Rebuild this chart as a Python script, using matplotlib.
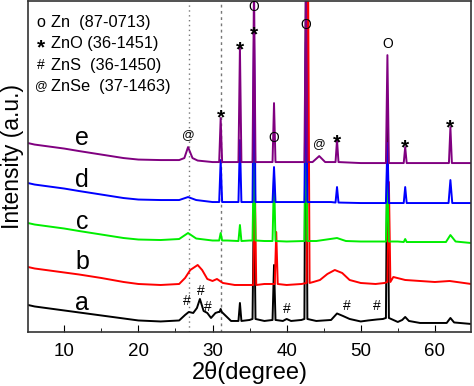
import matplotlib
matplotlib.use("Agg")
import matplotlib.pyplot as plt
from matplotlib.ticker import MultipleLocator

plt.rcParams['font.family'] = ['Liberation Sans', 'DejaVu Sans']

# broad profile of each pattern: (2theta, intensity)
base_a = [(5.1, 270), (6, 255), (8, 235), (10, 215), (12, 195), (15, 165), (18, 135), (20, 115),
          (23, 105), (25.5, 115), (26.3, 170), (26.8, 200), (27.4, 190), (27.9, 240), (28.3, 330),
          (28.8, 210), (29.3, 190), (29.8, 140), (30.4, 190), (30.8, 200), (32.5, 110), (35, 120),
          (37, 110), (39.5, 110), (40, 130), (40.6, 110), (42, 120), (44, 110), (46, 120),
          (46.8, 185), (47.6, 160), (48.5, 130), (50, 105), (51, 115), (52.2, 125), (53, 130),
          (55, 100), (55.6, 120), (56.0, 150), (56.5, 110), (58, 90), (60, 90), (61.6, 90),
          (62.1, 140), (62.6, 95), (64.9, 80)]
base_b = [(5.1, 650), (6, 635), (8, 615), (10, 595), (12, 575), (15, 540), (18, 500), (20, 480),
          (23, 470), (25.5, 480), (26.3, 540), (27.0, 620), (27.6, 650), (28.0, 670), (28.6, 620),
          (29.3, 530), (30.0, 510), (30.6, 530), (31.4, 490), (33, 470), (35, 470), (37, 480),
          (40, 470), (42, 480), (43.6, 500), (44.5, 520), (45.5, 580), (46.5, 620), (47.5, 590),
          (48.5, 520), (50, 490), (52, 480), (53.2, 490), (54.4, 550), (56, 520), (60, 500),
          (62, 510), (64.9, 480)]
base_c = [(5.1, 1090), (6, 1075), (8, 1055), (10, 1035), (12, 1010), (15, 975), (18, 940),
          (20, 925), (23, 920), (25.5, 930), (26.7, 990), (27.8, 935), (30, 915), (32, 915),
          (35, 915), (37, 910), (40, 905), (44, 910), (46.8, 940), (48, 910), (50, 905), (55, 905),
          (58, 900), (61.5, 900), (62.1, 970), (62.8, 905), (64.9, 890)]
base_d = [(5.1, 1490), (6, 1475), (8, 1455), (10, 1435), (12, 1410), (15, 1375), (18, 1340),
          (20, 1325), (23, 1320), (25.5, 1320), (26.7, 1350), (27.8, 1320), (30, 1300),
          (32.5, 1300), (35, 1300), (37, 1300), (40, 1300), (44, 1300), (46, 1300), (50, 1290),
          (52, 1290), (55, 1290), (58, 1290), (61, 1290), (64.9, 1290)]
base_e = [(5.1, 1890), (6, 1875), (8, 1855), (10, 1835), (12, 1810), (15, 1775), (18, 1740),
          (20, 1725), (23, 1720), (25.5, 1720), (26.2, 1740), (26.7, 1850), (27.3, 1740),
          (28, 1715), (30, 1700), (32.5, 1700), (35, 1700), (37, 1700), (40, 1700), (43.5, 1700),
          (44.4, 1760), (45.2, 1700), (50, 1690), (52, 1690), (55, 1690), (58, 1690), (61, 1690),
          (64.9, 1690)]

# sharp peaks: (position, top, foot, half width)
peaks_a = [(31.1, 230, 200, 0.15), (33.7, 290, 110, 0.2), (35.6, 1420, 130, 0.2),
           (38.3, 670, 120, 0.2), (42.6, 3500, 130, 0.2), (53.6, 2200, 140, 0.2)]
peaks_b = [(35.7, 1600, 470, 0.2), (38.6, 1000, 480, 0.2), (42.9, 3500, 490, 0.2),
           (53.8, 1500, 500, 0.2)]
peaks_c = [(31.1, 990, 915, 0.2), (33.7, 1070, 910, 0.2), (35.6, 1900, 915, 0.2),
           (38.3, 1570, 910, 0.2), (42.6, 2320, 910, 0.2), (53.6, 1560, 905, 0.2),
           (56.0, 930, 900, 0.2)]
peaks_d = [(31.1, 1720, 1300, 0.2), (33.7, 1920, 1300, 0.2), (35.6, 2970, 1300, 0.2),
           (38.3, 1650, 1300, 0.2), (42.6, 2900, 1300, 0.2), (46.8, 1450, 1295, 0.2),
           (53.6, 1890, 1290, 0.2), (56.0, 1450, 1290, 0.2), (62.1, 1520, 1290, 0.25)]
peaks_e = [(31.1, 2140, 1700, 0.2), (33.7, 2850, 1700, 0.2), (35.6, 3500, 1700, 0.2),
           (38.3, 2290, 1700, 0.2), (42.6, 3500, 1700, 0.2), (46.8, 1920, 1700, 0.2),
           (53.6, 2770, 1690, 0.2), (56.0, 1850, 1690, 0.2), (62.1, 2050, 1690, 0.2)]

samples = ['a', 'b', 'c', 'd', 'e']
colors = ['#000000', '#ff0000', '#00ee00', '#0000ff', '#800080']
bases = [base_a, base_b, base_c, base_d, base_e]
peaks = [peaks_a, peaks_b, peaks_c, peaks_d, peaks_e]
label_y = [290, 700, 1100, 1520, 1940]

# phase marks above the peaks: (symbol, 2theta, intensity)
marks = [('@', 26.7, 1970), ('*', 31.1, 2200), ('*', 33.7, 2880), ('O', 35.6, 3250),
         ('*', 35.6, 3030), ('O', 38.3, 1940), ('O', 42.6, 3070), ('@', 44.4, 1880),
         ('*', 46.8, 1950), ('O', 53.6, 2880), ('*', 56.0, 1900), ('*', 62.1, 2100),
         ('#', 26.6, 310), ('#', 28.4, 410), ('#', 29.4, 250), ('#', 40.0, 230),
         ('#', 48.1, 260), ('#', 52.2, 260)]
ref_lines = [26.8, 31.1]
legend_syms = ['o', '*', '#', '@']
legend_names = ['Zn  (87-0713)', 'ZnO (36-1451)', 'ZnS  (36-1450)', 'ZnSe  (37-1463)']

fig = plt.figure(figsize=(4.74, 3.86), dpi=100)
ax = fig.add_axes([0.059, 0.140, 0.935, 0.857])

for base, pk, col in zip(bases, peaks, colors):
    pts = list(base)
    for pos, top, foot, hw in pk:
        pts += [(pos - hw, foot), (pos, top), (pos + hw, foot)]
    pts.sort()
    ax.plot([p[0] for p in pts], [p[1] for p in pts], color=col, lw=1.4)

ax.axvline(ref_lines[0], color='#777777', ls=(0, (1, 2.5)), lw=1, zorder=0)
ax.axvline(ref_lines[1], color='#777777', ls=(0, (2, 2.5)), lw=1, zorder=0)

for s, y in zip(samples, label_y):
    ax.text(12.4, y, s, fontsize=18, ha='center', va='center')

sym_size = {'*': 15, 'O': 10, 'o': 11.5, '#': 10, '@': 9}
for sym, x, y in marks:
    fw = 'bold' if sym == '*' else 'normal'
    yy = y - 60 if sym == '*' else y
    ax.text(x, yy, sym, fontsize=sym_size[sym], fontweight=fw, ha='center', va='center')

for i, (sym, name) in enumerate(zip(legend_syms, legend_names)):
    yy = 0.935 - i * 0.064
    fw = 'bold' if sym == '*' else 'normal'
    dy = -0.012 if sym == '*' else 0
    ax.text(0.03, yy + dy, sym, transform=ax.transAxes, fontsize=sym_size[sym],
            fontweight=fw, ha='center', va='center')
    ax.text(0.052, yy, name, transform=ax.transAxes, fontsize=11.8, ha='left', va='center')

ax.set_xlim(5.1, 64.9)
ax.set_ylim(0, 3310)
ax.set_yticks([])
ax.xaxis.set_major_locator(MultipleLocator(10))
ax.xaxis.set_minor_locator(MultipleLocator(5))
ax.tick_params(axis='x', which='major', direction='in', length=5, labelsize=13.5, pad=8)
ax.tick_params(axis='x', which='minor', direction='in', length=3)
for sp in ax.spines.values():
    sp.set_linewidth(1.2)
    sp.set_color('#333333')

ax.set_xlabel('2θ(degree)', fontsize=17, labelpad=1)
ax.set_ylabel('Intensity (a.u.)', fontsize=16.5)
ax.yaxis.set_label_coords(-0.008, 0.53)

fig.savefig('out.png', dpi=100)
